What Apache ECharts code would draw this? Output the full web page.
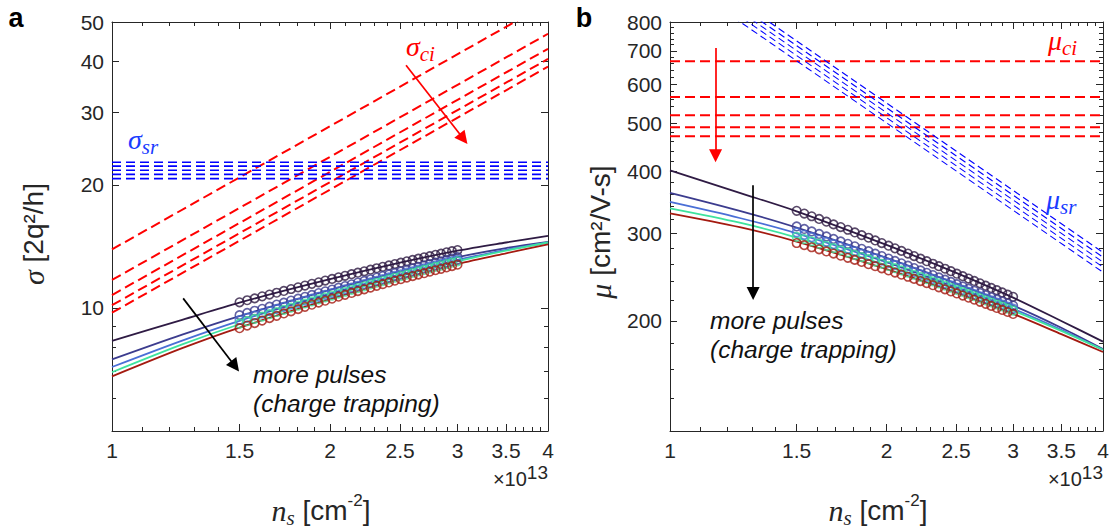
<!DOCTYPE html>
<html><head><meta charset="utf-8">
<script src="https://cdn.jsdelivr.net/npm/echarts@6.0.0/dist/echarts.min.js"></script>
<style>html,body{margin:0;padding:0;background:#fff}#c{width:1112px;height:529px}</style>
</head><body><div id="c"></div>
<script>
// ---------------- data ----------------
// n_s in units of 1e13 cm^-2
const nsCurve = [1, 1.25, 1.5, 2, 2.5, 3, 3.5, 4];
const nsLineEnds = [1, 4];
const nsData = [1.5, 1.537, 1.574, 1.612, 1.650, 1.688, 1.727, 1.767, 1.807, 1.847, 1.888, 1.929, 1.970, 2.013, 2.055, 2.098, 2.142, 2.185, 2.230, 2.275, 2.320, 2.365, 2.412, 2.458, 2.505, 2.553, 2.601, 2.649, 2.698, 2.747, 2.797, 2.847, 2.897, 2.948, 3.0];

// panel a: conductance sigma [2q^2/h]
const sigmaFit1 = [8.3, 9.35, 10.3, 11.75, 12.9, 13.8, 14.45, 15.0];
const sigmaFit2 = [7.48, 8.6, 9.55, 11.06, 12.27, 13.3, 14.0, 14.5];
const sigmaFit3 = [7.17, 8.32, 9.3, 10.84, 12.07, 13.1, 13.87, 14.45];
const sigmaFit4 = [6.96, 8.14, 9.12, 10.69, 11.96, 13.0, 13.8, 14.45];
const sigmaFit5 = [6.8, 7.97, 8.95, 10.5, 11.77, 12.8, 13.6, 14.3];

const sigmaMeas1 = [10.32, 10.44, 10.55, 10.67, 10.78, 10.89, 11.00, 11.12, 11.23, 11.34, 11.45, 11.55, 11.66, 11.77, 11.88, 11.98, 12.09, 12.19, 12.29, 12.40, 12.50, 12.60, 12.70, 12.80, 12.90, 13.00, 13.10, 13.19, 13.29, 13.38, 13.48, 13.57, 13.67, 13.76, 13.85];
const sigmaMeas2 = [9.60, 9.72, 9.84, 9.95, 10.07, 10.19, 10.30, 10.42, 10.53, 10.64, 10.76, 10.87, 10.98, 11.09, 11.20, 11.31, 11.42, 11.53, 11.64, 11.75, 11.86, 11.96, 12.07, 12.17, 12.28, 12.38, 12.49, 12.59, 12.69, 12.80, 12.90, 13.00, 13.10, 13.20, 13.30];
const sigmaMeas3 = [9.34, 9.46, 9.58, 9.70, 9.82, 9.94, 10.06, 10.18, 10.29, 10.41, 10.53, 10.64, 10.76, 10.87, 10.98, 11.10, 11.21, 11.32, 11.43, 11.54, 11.65, 11.76, 11.87, 11.98, 12.08, 12.19, 12.29, 12.40, 12.50, 12.61, 12.71, 12.81, 12.92, 13.02, 13.12];
const sigmaMeas4 = [9.15, 9.28, 9.40, 9.52, 9.65, 9.77, 9.89, 10.01, 10.13, 10.25, 10.37, 10.49, 10.61, 10.72, 10.84, 10.95, 11.07, 11.18, 11.29, 11.41, 11.52, 11.63, 11.74, 11.85, 11.96, 12.06, 12.17, 12.28, 12.38, 12.49, 12.59, 12.69, 12.80, 12.90, 13.00];
const sigmaMeas5 = [8.92, 9.05, 9.18, 9.31, 9.44, 9.56, 9.69, 9.81, 9.93, 10.06, 10.18, 10.30, 10.41, 10.53, 10.65, 10.76, 10.88, 10.99, 11.10, 11.21, 11.32, 11.43, 11.54, 11.65, 11.75, 11.86, 11.96, 12.06, 12.16, 12.26, 12.36, 12.46, 12.56, 12.65, 12.75];

const sigmaCiAtStart = [13.9, 11.7, 10.75, 10.15, 9.73];
const sigmaCiAtEnd = [55.6, 46.8, 43.0, 40.6, 38.9];
const sigmaSr = [22.7, 22.2, 21.7, 21.2, 20.7];

// panel b: mobility mu [cm^2/V-s]
const muFit1 = [401.9, 362.2, 332.5, 284.5, 249.9, 222.8, 199.9, 181.6];
const muFit2 = [362.2, 333.2, 308.3, 267.8, 237.7, 214.7, 193.7, 175.5];
const muFit3 = [347.2, 322.3, 300.2, 262.5, 233.8, 211.5, 191.9, 174.9];
const muFit4 = [337.0, 315.3, 294.4, 258.8, 231.7, 209.8, 190.9, 174.9];
const muFit5 = [329.3, 308.8, 288.9, 254.2, 228.0, 206.6, 188.1, 173.1];

const muMeas1 = [333.2, 329.0, 324.9, 320.9, 316.9, 312.9, 309.0, 305.2, 301.4, 297.7, 294.1, 290.5, 286.9, 283.5, 280.0, 276.7, 273.3, 270.1, 266.9, 263.8, 260.7, 257.7, 254.7, 251.8, 248.9, 246.1, 243.4, 240.7, 238.1, 235.5, 233.0, 230.6, 228.2, 225.9, 223.6];
const muMeas2 = [309.9, 306.3, 302.8, 299.3, 295.9, 292.5, 289.1, 285.9, 282.6, 279.4, 276.3, 273.1, 270.1, 267.1, 264.1, 261.2, 258.3, 255.5, 252.7, 250.0, 247.3, 244.7, 242.1, 239.6, 237.1, 234.6, 232.2, 229.9, 227.6, 225.3, 223.1, 220.9, 218.8, 216.7, 214.7];
const muMeas3 = [301.5, 298.2, 294.9, 291.7, 288.5, 285.4, 282.3, 279.2, 276.2, 273.2, 270.3, 267.4, 264.5, 261.7, 258.9, 256.2, 253.5, 250.8, 248.2, 245.6, 243.1, 240.6, 238.1, 235.7, 233.3, 231.0, 228.7, 226.4, 224.2, 222.1, 219.9, 217.8, 215.8, 213.8, 211.8];
const muMeas4 = [295.4, 292.3, 289.3, 286.3, 283.3, 280.4, 277.4, 274.6, 271.7, 268.9, 266.2, 263.4, 260.7, 258.0, 255.4, 252.8, 250.2, 247.7, 245.2, 242.7, 240.3, 237.9, 235.5, 233.2, 230.9, 228.7, 226.4, 224.2, 222.1, 219.9, 217.8, 215.8, 213.8, 211.8, 209.8];
const muMeas5 = [287.0, 284.2, 281.4, 278.7, 276.0, 273.3, 270.6, 268.0, 265.4, 262.8, 260.2, 257.7, 255.2, 252.7, 250.2, 247.8, 245.4, 243.0, 240.6, 238.3, 236.0, 233.7, 231.5, 229.3, 227.1, 224.9, 222.7, 220.6, 218.5, 216.5, 214.4, 212.4, 210.4, 208.4, 206.5];

const muCi = [667, 565, 519, 491, 471];
const muSrAtStart = [1099, 1075, 1051, 1027, 1002];
const muSrAtEnd = [274.8, 268.8, 262.7, 256.7, 250.6];

// annotation arrows (data coordinates)
const arrowCiA = [[2.547, 39.2], [3.057, 25.9]];
const arrowPulsesA = [[1.254, 10.55], [1.479, 7.2]];
const arrowCiB = [[1.157, 709], [1.157, 430]];
const arrowPulsesB = [[1.305, 375], [1.305, 227]];

// ticks
const xMajor = [1, 1.5, 2, 2.5, 3, 3.5, 4];
const xMinor = [1.1, 1.2, 1.3, 1.4, 1.6, 1.7, 1.8, 1.9, 2.1, 2.2, 2.3, 2.4, 2.6, 2.7, 2.8, 2.9, 3.1, 3.2, 3.3, 3.4, 3.6, 3.7, 3.8, 3.9];
const yMajorA = [10, 20, 30, 40, 50];
const yMinorA = [6, 7, 8, 9];
const yMajorB = [200, 300, 400, 500, 600, 700, 800];
const yMinorB = [140, 160, 180, 220, 240, 260, 280, 320, 340, 360, 380, 420, 440, 460, 480, 520, 540, 560, 580, 620, 640, 660, 680, 720, 740, 760, 780];

// ---------------- styling / building ----------------
const TXT = '#262626';
const FONT = '"Liberation Sans", Arial, Helvetica, sans-serif';
const SERIF = '"Liberation Serif", "DejaVu Serif", serif';
const fitColors = ['#2f1b44', '#3c3c8e', '#4a6fd6', '#3ee39e', '#a41a10'];
const RED = '#ff0000', BLUE = '#0000ff';

function pairs(xs, ys) { return xs.map((x, i) => [x, ys[i]]); }
function fmt(v) { return String(Math.round(v * 100) / 100); }

function axisSet(isX, gridIndex, min, max, majors, minors) {
  const p = isX ? ['bottom', 'top'] : ['left', 'right'];
  const major = (pos, showLabel) => ({
    type: 'log', logBase: 10, gridIndex, min, max, position: pos,
    axisLine: { show: true, onZero: false, lineStyle: { color: TXT, width: 1 } },
    axisTick: { show: true, inside: true, length: 7, customValues: majors, lineStyle: { color: TXT, width: 1 } },
    axisLabel: { show: showLabel, customValues: majors, formatter: fmt, fontSize: 21, color: TXT, fontFamily: FONT, margin: isX ? 9 : 8 },
    splitLine: { show: false }, minorTick: { show: false }, axisPointer: { show: false }
  });
  const minor = (pos) => ({
    type: 'log', logBase: 10, gridIndex, min, max, position: pos,
    axisLine: { show: false },
    axisTick: { show: true, inside: true, length: 4, customValues: minors, lineStyle: { color: TXT, width: 1 } },
    axisLabel: { show: false },
    splitLine: { show: false }, minorTick: { show: false }
  });
  return [major(p[0], true), major(p[1], false), minor(p[0]), minor(p[1])];
}

const xAxes = [].concat(axisSet(true, 0, 1, 4, xMajor, xMinor), axisSet(true, 1, 1, 4, xMajor, xMinor));
const yAxes = [].concat(axisSet(false, 0, 5, 50, yMajorA, yMinorA), axisSet(false, 1, 120, 800, yMajorB, yMinorB));

const series = [];
function addPanel(ai, ciStart, ciEnd, srStart, srEnd, fits, meas, arrowCi, arrowPulses) {
  const base = { xAxisIndex: ai, yAxisIndex: ai, silent: true, animation: false };
  for (let i = 0; i < ciStart.length; i++) {
    series.push(Object.assign({ type: 'line', symbol: 'none', z: 2,
      data: pairs(nsLineEnds, [ciStart[i], ciEnd[i]]),
      lineStyle: { color: RED, width: 2, type: [10, 5] } }, base));
  }
  for (let i = 0; i < srStart.length; i++) {
    series.push(Object.assign({ type: 'line', symbol: 'none', z: 2,
      data: pairs(nsLineEnds, [srStart[i], srEnd[i]]),
      lineStyle: { color: BLUE, width: ai === 0 ? 1.7 : 1.1, type: ai === 0 ? [9, 5] : [7, 4] } }, base));
  }
  fits.forEach((f, i) => {
    series.push(Object.assign({ type: 'line', symbol: 'none', smooth: 0.3, z: 3,
      data: pairs(nsCurve, f), lineStyle: { color: fitColors[i], width: 1.8 } }, base));
  });
  meas.forEach((m, i) => {
    series.push(Object.assign({ type: 'scatter', symbol: 'circle', symbolSize: 8.5, z: 4,
      data: pairs(nsData, m),
      itemStyle: { color: 'rgba(0,0,0,0)', borderColor: fitColors[i], borderWidth: 1.6 } }, base));
  });
  [[arrowCi, RED], [arrowPulses, '#000000']].forEach(([a, c]) => {
    series.push(Object.assign({ type: 'lines', coordinateSystem: 'cartesian2d', z: 5,
      data: [{ coords: a }], symbol: ['none', 'triangle'], symbolSize: 13,
      lineStyle: { color: c, width: 1.7, opacity: 1, curveness: 0 } }, base));
  });
}
addPanel(0, sigmaCiAtStart, sigmaCiAtEnd, sigmaSr, sigmaSr,
  [sigmaFit1, sigmaFit2, sigmaFit3, sigmaFit4, sigmaFit5],
  [sigmaMeas1, sigmaMeas2, sigmaMeas3, sigmaMeas4, sigmaMeas5], arrowCiA, arrowPulsesA);
addPanel(4, muCi, muCi, muSrAtStart, muSrAtEnd,
  [muFit1, muFit2, muFit3, muFit4, muFit5],
  [muMeas1, muMeas2, muMeas3, muMeas4, muMeas5], arrowCiB, arrowPulsesB);

// ---------------- text ----------------
function txt(x, y, text, style, extra) {
  return Object.assign({ type: 'text', x, y, silent: true, z: 100,
    style: Object.assign({ text, fill: TXT, fontFamily: FONT, fontSize: 24, textAlign: 'center', textVerticalAlign: 'middle' }, style) }, extra || {});
}
const mathRich = (color) => ({
  m: { fontFamily: SERIF, fontStyle: 'italic', fontSize: 28, fill: color, lineHeight: 36 },
  s: { fontFamily: SERIF, fontStyle: 'italic', fontSize: 21, fill: color, lineHeight: 21, verticalAlign: 'bottom' }
});
const labelRich = {
  g: { fontFamily: SERIF, fontStyle: 'italic', fontSize: 30, fill: TXT, lineHeight: 36 },
  n: { fontFamily: SERIF, fontStyle: 'italic', fontSize: 30, fill: TXT, lineHeight: 36 },
  sub: { fontFamily: SERIF, fontStyle: 'italic', fontSize: 21, fill: TXT, lineHeight: 21, verticalAlign: 'bottom' },
  sup: { fontFamily: FONT, fontSize: 17, fill: TXT, lineHeight: 17, verticalAlign: 'top' },
  t: { fontFamily: FONT, fontSize: 28, fill: TXT, lineHeight: 36 }
};
const expRich = {
  t: { fontFamily: FONT, fontSize: 20, fill: TXT, lineHeight: 32 },
  sup: { fontFamily: FONT, fontSize: 19, fill: TXT, lineHeight: 19, verticalAlign: 'top' }
};
const italicSans = { fontFamily: FONT, fontStyle: 'italic', fontSize: 24.5, fill: '#111', textAlign: 'left' };

const graphic = [
  txt(16, 18, 'a', { fontWeight: 'bold', fontSize: 27, fill: '#000' }),
  txt(584, 18, 'b', { fontWeight: 'bold', fontSize: 27, fill: '#000' }),
  // axis names
  txt(33, 234, '{g|σ}{t| [2q²/h]}', { rich: labelRich }, { rotation: Math.PI / 2 }),
  txt(600, 232, '{g|μ}{t| [cm²/V-s]}', { rich: labelRich }, { rotation: Math.PI / 2 }),
  txt(321, 510, '{n|n}{sub|s}{t| [cm}{sup|-2}{t|]}', { rich: labelRich }),
  txt(878, 510, '{n|n}{sub|s}{t| [cm}{sup|-2}{t|]}', { rich: labelRich }),
  txt(548, 479, '{t|×10}{sup|13}', { rich: expRich, textAlign: 'right' }),
  txt(1103, 479, '{t|×10}{sup|13}', { rich: expRich, textAlign: 'right' }),
  // annotations
  txt(406, 46, '{m|σ}{s|ci}', { rich: mathRich(RED), textAlign: 'left' }),
  txt(128, 139, '{m|σ}{s|sr}', { rich: mathRich('#1a3cff'), textAlign: 'left' }),
  txt(1048, 40, '{m|μ}{s|ci}', { rich: mathRich(RED), textAlign: 'left' }),
  txt(1046, 199, '{m|μ}{s|sr}', { rich: mathRich('#1a3cff'), textAlign: 'left' }),
  txt(253, 374, 'more pulses', italicSans),
  txt(253, 403, '(charge trapping)', italicSans),
  txt(710, 320, 'more pulses', italicSans),
  txt(710, 349, '(charge trapping)', italicSans)
];

const chart = echarts.init(document.getElementById('c'), null, { renderer: 'svg', width: 1112, height: 529 });
chart.setOption({
  animation: false,
  backgroundColor: '#ffffff',
  textStyle: { fontFamily: FONT },
  grid: [
    { left: 112, top: 22, width: 436, height: 409, containLabel: false, outerBoundsMode: 'none' },
    { left: 670, top: 22, width: 433, height: 409, containLabel: false, outerBoundsMode: 'none' }
  ],
  xAxis: xAxes,
  yAxis: yAxes,
  series,
  graphic
});
</script>
</body></html>
